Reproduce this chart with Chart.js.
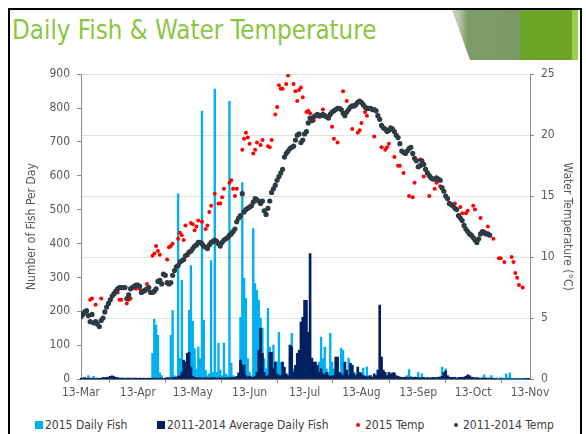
<!DOCTYPE html>
<html>
<head>
<meta charset="utf-8">
<script src="https://cdn.jsdelivr.net/npm/chart.js@4.4.1/dist/chart.umd.min.js"></script>
<style>
  html, body { margin:0; padding:0; background:#fff; }
  body { width:586px; height:434px; position:relative; overflow:hidden;
         font-family:"DejaVu Sans Condensed","DejaVu Sans",sans-serif; }
  #frame { position:absolute; left:8px; top:8px; width:570px; height:440px;
           border:2px solid #000; border-bottom:none; }
  #title { position:absolute; left:12px; top:17px; font-size:25.7px; line-height:26px;
           color:#8cc63f; white-space:nowrap; }
  .deco { position:absolute; top:10px; height:50px; }
  #wrap { position:absolute; left:10px; top:60px; width:568px; height:346px; }
  #legend { position:absolute; left:0; top:418px; width:586px; height:16px;
            font-size:12px; line-height:14px; color:#404040; }
  #legend span { position:absolute; white-space:nowrap; }
  #legend i { display:inline-block; vertical-align:middle; margin-right:2px; margin-top:-2px; }
</style>
</head>
<body>
<div id="frame"></div>
<div class="deco" style="left:452px;width:70px;clip-path:polygon(0 0,100% 0,100% 100%,18px 100%);background:linear-gradient(to right,#c3cbb9 0,#c3cbb9 8%,#7f9c68 22%,#7a9962 100%);"></div>
<div class="deco" style="left:520px;width:52px;background:#6ca526;"></div>
<div class="deco" style="left:572px;width:6px;background:#9ccd4c;"></div>
<div id="title">Daily Fish &amp; Water Temperature</div>
<div id="wrap"><canvas id="chart" width="568" height="346"></canvas></div>
<div id="legend"></div>
<script>
// x axis: day index counted from 13-Mar
var tickLabels = ['13-Mar', '13-Apr', '13-May', '13-Jun', '13-Jul', '13-Aug', '13-Sep', '13-Oct', '13-Nov'];
var tickDays = [0, 31, 61, 92, 122, 153, 184, 214, 245];

// 2015 Daily Fish, one value per day
var fish2015 = [
  0,1,0,2,10,3,2,8,2,1,
  0,0,1,0,0,0,1,0,0,0,
  0,0,0,0,1,0,0,0,0,0,
  0,0,0,0,0,0,0,0,0,76,
  176,159,129,18,10,2,0,0,5,129,
  203,10,5,547,60,291,40,30,20,203,
  335,170,90,30,94,60,791,173,26,10,
  15,350,20,856,20,106,26,10,106,15,
  10,820,47,10,5,3,10,182,580,297,
  238,60,20,10,444,282,262,232,180,150,
  60,30,209,94,30,100,50,50,138,50,
  20,15,10,10,60,135,30,20,10,15,
  20,30,30,20,30,20,20,25,30,40,
  50,124,60,94,30,20,135,50,30,20,
  20,15,91,85,20,15,62,10,40,20,
  10,15,10,20,32,10,35,10,8,5,
  6,5,26,10,8,5,4,3,3,5,
  4,3,3,5,4,3,2,5,10,28,
  8,4,3,5,20,4,15,3,2,4,
  3,2,4,3,5,6,4,35,8,30,
  5,4,3,4,6,3,2,4,3,5,
  4,6,3,2,4,3,5,2,3,4,
  12,3,2,4,10,3,2,3,2,4,
  3,2,15,4,18,3,2,2,1,2,
  1,2,1,0,0,0
];

// 2011-2014 Average Daily Fish, one value per day
var fishAvg = [
  3,3,4,2,3,2,3,2,2,3,
  2,3,4,4,5,6,8,9,7,5,
  4,3,3,3,2,3,3,3,2,3,
  3,2,3,2,3,2,2,3,2,3,
  2,3,2,3,3,2,3,4,3,3,
  4,5,6,8,10,20,56,50,76,79,
  35,8,5,4,3,4,3,3,4,3,
  3,4,5,4,3,3,4,3,3,4,
  3,4,5,4,6,8,18,56,41,41,
  10,5,8,5,5,8,20,85,150,76,
  20,8,10,79,79,30,50,15,10,10,
  50,35,15,10,100,95,20,40,76,85,
  168,182,232,232,138,370,62,50,50,41,
  20,30,15,12,20,10,8,10,10,65,
  65,20,15,10,50,26,10,47,40,15,
  10,35,20,15,10,8,6,8,10,6,
  15,10,26,218,65,26,20,10,20,15,
  18,18,10,8,6,5,5,6,5,4,
  5,4,6,5,4,3,4,5,3,4,
  3,4,5,4,3,5,6,8,20,24,
  10,6,5,4,5,3,4,5,4,6,
  8,12,10,6,4,3,4,3,2,3,
  2,3,2,1,2,1,1,0,0,0,
  0,0,0,0,0,0,0,0,0,0,
  0,0,0,0,0,0
];

// 2011-2014 Temp (deg C), one value per day from 13-Mar
var tempAvg = [
  5.1,5.3,5.5,5.6,5.2,4.7,5.3,4.6,4.7,4.5,
  4.3,4.8,5.0,5.5,5.9,6.2,6.5,6.8,7.0,7.2,
  7.4,7.5,7.5,7.5,7.5,6.6,6.9,7.4,7.5,7.6,
  7.7,7.7,7.6,7.1,7.2,7.3,7.4,7.5,7.1,7.1,
  7.2,7.4,8.0,8.1,7.8,8.6,8.5,7.9,7.8,7.9,
  8.5,8.9,9.2,9.3,9.6,9.7,9.8,10.1,10.2,10.4,
  10.5,10.7,10.9,11.0,11.2,11.2,11.1,10.9,10.8,10.7,
  11.0,11.2,11.3,11.4,11.3,11.1,10.9,11.2,11.4,11.5,
  11.6,11.8,11.9,12.1,12.3,12.9,13.2,13.4,15.2,13.7,
  13.9,14.0,14.1,14.2,14.5,14.8,14.7,14.6,14.4,14.6,
  13.8,13.5,14.0,14.6,15.3,15.6,15.9,16.3,16.6,16.9,
  17.2,18.2,18.5,18.7,18.9,19.0,19.1,19.6,20.0,20.1,
  19.4,19.6,20.1,20.3,21.0,21.4,21.2,21.5,21.6,21.7,
  21.6,21.6,21.7,21.6,21.5,21.4,21.7,21.9,22.0,22.1,
  22.2,22.2,22.1,21.8,21.6,21.9,22.1,22.3,22.4,22.4,
  22.5,22.7,22.8,22.7,22.5,22.3,22.2,22.2,22.2,22.1,
  22.1,22.0,21.6,21.3,20.8,20.6,20.5,20.3,20.4,20.6,
  20.5,20.3,20.0,19.8,19.3,18.7,18.6,18.5,18.7,18.9,
  19.0,18.5,18.1,17.9,17.4,17.5,17.9,17.6,17.2,16.9,
  16.7,16.5,16.4,16.4,16.5,16.4,16.3,15.7,15.4,15.0,
  14.8,14.4,14.3,14.2,14.0,13.9,13.4,13.2,13.0,12.6,
  12.3,12.1,11.9,11.8,11.6,11.4,11.2,11.5,11.9,12.1,
  12.0,11.9,11.9,11.8
];

// 2015 Temp: only measured on some days
var tempDays2015 = [5,6,8,11,20,21,22,25,26,27,30,32,33,35,36,39,40,41,42,43,47,48,49,50,
  53,54,55,56,57,60,61,62,63,64,66,68,69,70,71,73,75,76,77,78,81,82,83,84,85,88,89,90,91,92,
  94,95,96,98,99,102,103,104,106,107,108,109,110,112,113,116,117,118,119,120,121,123,124,125,
  127,130,132,137,138,140,143,145,148,151,152,153,155,156,160,164,166,167,168,171,173,174,176,
  179,181,182,185,187,190,193,194,196,197,204,207,208,210,211,214,215,218,220,222,223,225,228,
  229,231,235,236,237,238,239,241];
var temp2015 = [6.5,6.6,6.1,6.6,7.1,6.5,6.5,6.2,6.5,6.6,7.4,7.4,7.2,7.2,7.8,10.1,10.3,10.9,10.5,10.2,
  9.8,10.8,10.9,11.1,11.5,12.0,11.8,11.4,12.6,12.8,12.7,12.2,12.5,13.0,12.9,12.3,12.6,13.7,14.2,
  15.2,14.4,14.4,14.9,15.6,16.1,16.3,15.6,15.0,15.6,18.8,19.7,20.2,19.8,19.3,18.5,18.8,19.4,19.2,
  19.6,19.1,19.0,19.6,21.7,22.3,24.1,23.8,23.8,24.2,24.9,24.2,23.6,22.8,23.7,23.9,23.1,21.9,22.0,
  21.8,21.2,21.5,22.1,20.7,19.7,19.4,23.6,22.8,20.5,20.2,20.4,21.0,21.9,21.6,19.9,19.0,18.8,19.0,
  19.3,18.2,17.5,17.5,16.9,15.0,14.9,16.1,18.0,16.6,15.0,15.6,16.1,15.8,15.6,14.4,14.1,13.6,13.6,
  13.8,14.2,13.9,13.2,12.1,12.5,11.8,11.5,9.9,9.9,9.6,10.0,9.6,8.7,8.3,7.7,7.5];

var axisFont = { family: '"DejaVu Sans Condensed", "DejaVu Sans", sans-serif', size: 12 };

var chart = new Chart(document.getElementById('chart'), {
  type: 'bar',
  data: {
    datasets: [
      {
        label: '2015 Daily Fish',
        data: fish2015.map(function (v, i) { return { x: i, y: v }; }),
        backgroundColor: '#00b0f0',
        barThickness: 1.7,
        grouped: false,
        order: 3
      },
      {
        label: '2011-2014 Average Daily Fish',
        data: fishAvg.map(function (v, i) { return { x: i, y: v }; }),
        backgroundColor: '#002060',
        barThickness: 2,
        grouped: false,
        order: 2
      },
      {
        type: 'scatter',
        label: '2015 Temp',
        data: tempDays2015.map(function (d, i) { return { x: d, y: temp2015[i] }; }),
        yAxisID: 'y1',
        backgroundColor: '#ff0000',
        borderWidth: 0,
        pointRadius: 2,
        order: 1
      },
      {
        type: 'scatter',
        label: '2011-2014 Temp',
        data: tempAvg.map(function (v, i) { return { x: i, y: v }; }),
        yAxisID: 'y1',
        backgroundColor: '#2e3b42',
        borderWidth: 0,
        pointRadius: 2.6,
        order: 0
      }
    ]
  },
  options: {
    responsive: false,
    animation: false,
    layout: { padding: { top: 13, left: 0, right: 0, bottom: 0 } },
    plugins: {
      legend: { display: false },
      tooltip: { enabled: false }
    },
    scales: {
      x: {
        type: 'linear',
        min: 0,
        max: 245,
        offset: false,
        afterBuildTicks: function (axis) {
          axis.ticks = tickDays.map(function (d) { return { value: d }; });
        },
        afterFit: function (axis) { axis.height = 27; },
        ticks: {
          autoSkip: false,
          maxRotation: 0,
          padding: 3,
          color: '#595959',
          font: axisFont,
          callback: function (v, i) { return tickLabels[i]; }
        },
        grid: { drawOnChartArea: false, tickLength: 4, color: '#8c8c8c' },
        border: { color: '#000', width: 1.5 }
      },
      y: {
        position: 'left',
        min: 0,
        max: 900,
        afterFit: function (axis) { axis.width = 71; },
        ticks: { stepSize: 100, padding: 7, color: '#595959', font: axisFont },
        grid: { drawOnChartArea: false, tickLength: 4, color: '#8c8c8c' },
        border: { color: '#8c8c8c' },
        title: {
          display: true,
          text: 'Number of Fish Per Day',
          color: '#595959',
          font: axisFont,
          padding: { top: 15, bottom: 0 }
        }
      },
      y1: {
        position: 'right',
        min: 0,
        max: 25,
        afterFit: function (axis) { axis.width = 48; },
        ticks: { stepSize: 5, padding: 7, color: '#595959', font: axisFont },
        grid: { color: '#e3e3e3', tickColor: '#8c8c8c', tickLength: 4 },
        border: { color: '#8c8c8c' },
        title: {
          display: true,
          text: 'Water Temperature (°C)',
          color: '#595959',
          font: axisFont,
          padding: { top: 4, bottom: 0 }
        }
      }
    }
  }
});

// Legend
var legendLeft = [35, 157, 356, 454];
var legend = document.getElementById('legend');
chart.data.datasets.forEach(function (ds, i) {
  var item = document.createElement('span');
  item.style.left = legendLeft[i] + 'px';
  var mark = document.createElement('i');
  if (ds.type === 'scatter') {
    mark.style.width = '4px';
    mark.style.height = '4px';
    mark.style.borderRadius = '50%';
    mark.style.marginRight = '5px';
  } else {
    mark.style.width = '8px';
    mark.style.height = '8px';
  }
  mark.style.background = ds.backgroundColor;
  item.appendChild(mark);
  item.appendChild(document.createTextNode(ds.label));
  legend.appendChild(item);
});
</script>
</body>
</html>
